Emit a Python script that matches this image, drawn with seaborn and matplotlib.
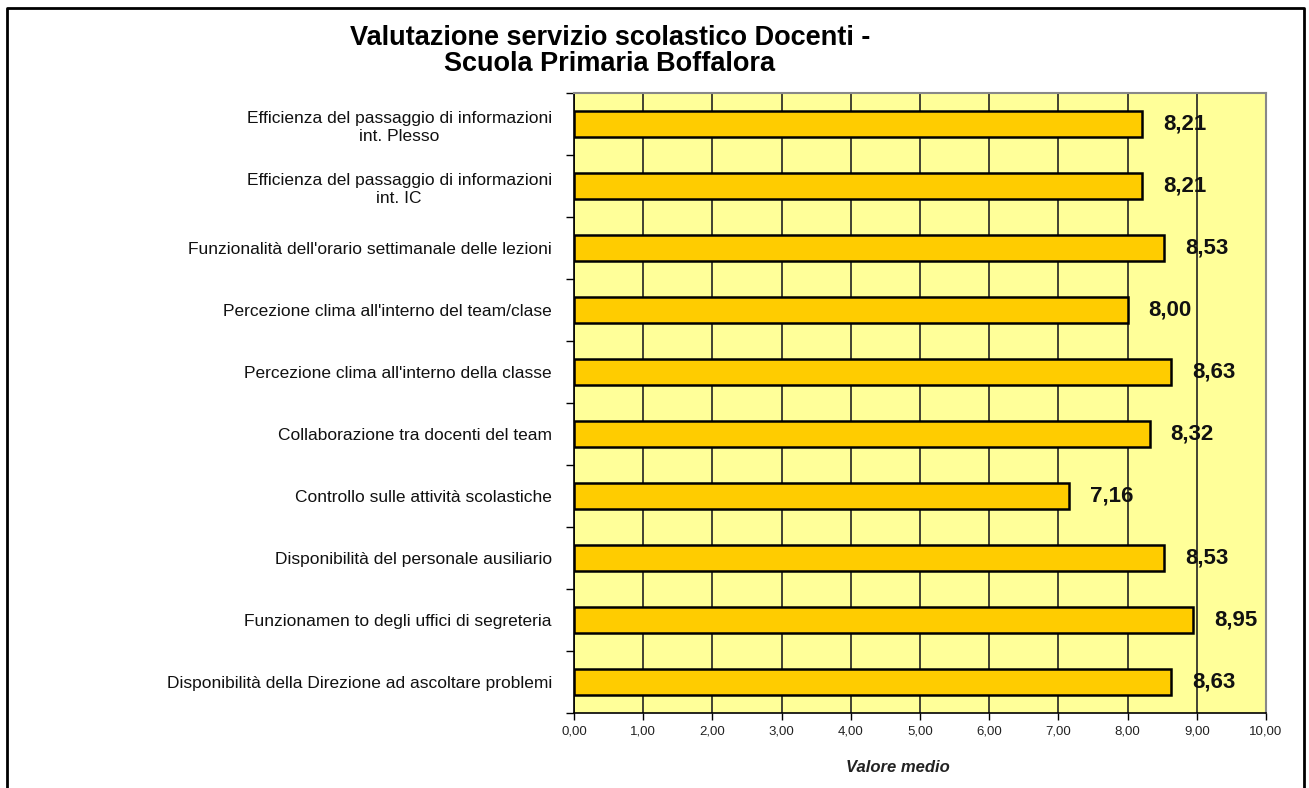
import matplotlib
matplotlib.use("Agg")
import matplotlib.pyplot as plt
import numpy as np
import seaborn as sns

categories = [
    "Efficienza del passaggio di informazioni\nint. Plesso",
    "Efficienza del passaggio di informazioni\nint. IC",
    "Funzionalità dell'orario settimanale delle lezioni",
    "Percezione clima all'interno del team/clase",
    "Percezione clima all'interno della classe",
    "Collaborazione tra docenti del team",
    "Controllo sulle attività scolastiche",
    "Disponibilità del personale ausiliario",
    "Funzionamen to degli uffici di segreteria",
    "Disponibilità della Direzione ad ascoltare problemi",
]
values = [8.21, 8.21, 8.53, 8.00, 8.63, 8.32, 7.16, 8.53, 8.95, 8.63]
xticks = np.arange(0, 11, 1)

sns.set_style("white")
plt.rcParams["font.family"] = ["Liberation Sans", "DejaVu Sans"]

fig = plt.figure(figsize=(13.09, 7.88), dpi=100)
ax = fig.add_axes([574 / 1309, 1 - 713 / 788, (1266 - 574) / 1309, (713 - 93) / 788])
ax.set_facecolor("#FFFF99")

sns.barplot(x=values, y=categories, color="#FFCC00", edgecolor="black",
            linewidth=1.8, width=0.42, orient="h", ax=ax, saturation=1, zorder=3)

ax.set_xlim(0, 10)
ax.set_ylim(len(categories) - 0.5, -0.5)
ax.set_xticks(xticks)
ax.set_xticklabels([f"{t:.2f}".replace(".", ",") for t in xticks], fontsize=9.5, color="#222222")
ax.grid(axis="x", color="#222222", linewidth=1.2, zorder=1)
ax.set_axisbelow(True)

# category ticks at band borders, labels at centers
ax.set_yticks(np.arange(-0.5, len(categories), 1))
ax.set_yticklabels([])
ax.set_yticks(np.arange(len(categories)), minor=True)
ax.set_yticklabels(categories, minor=True, fontsize=12.5, multialignment="center",
                   color="#111111", linespacing=1.3)
ax.tick_params(axis="y", which="major", length=6, width=1, color="black", direction="out", left=True)
ax.tick_params(axis="y", which="minor", length=0, pad=16)
ax.tick_params(axis="x", length=5, width=1, color="black", direction="out", bottom=True, pad=4)
ax.set_ylabel("")

for side in ["top", "right"]:
    ax.spines[side].set_color("#888888")
    ax.spines[side].set_linewidth(1.5)
for side in ["left", "bottom"]:
    ax.spines[side].set_color("black")
    ax.spines[side].set_linewidth(1.2)

ax.bar_label(ax.containers[0], labels=[f"{v:.2f}".replace(".", ",") for v in values],
             padding=15, fontsize=16, fontweight="bold", color="#111111")

ax.set_xlabel("")
fig.text(898 / 1309, 1 - 768 / 788, "Valore medio", ha="center", va="center",
         fontsize=12, fontweight="bold", fontstyle="italic", color="#222222")

fig.text(610 / 1309, 1 - 38 / 788, "Valutazione servizio scolastico Docenti -",
         ha="center", va="center", fontsize=19.5, fontweight="bold", color="black")
fig.text(610 / 1309, 1 - 64 / 788, "Scuola Primaria Boffalora",
         ha="center", va="center", fontsize=19.5, fontweight="bold", color="black")

# outer frame
fig.add_artist(plt.Line2D([7 / 1309, 7 / 1309, 1304 / 1309, 1304 / 1309],
                          [0, 1 - 8 / 788, 1 - 8 / 788, 0],
                          transform=fig.transFigure, color="black", linewidth=2))

fig.savefig("out.png", dpi=100)
